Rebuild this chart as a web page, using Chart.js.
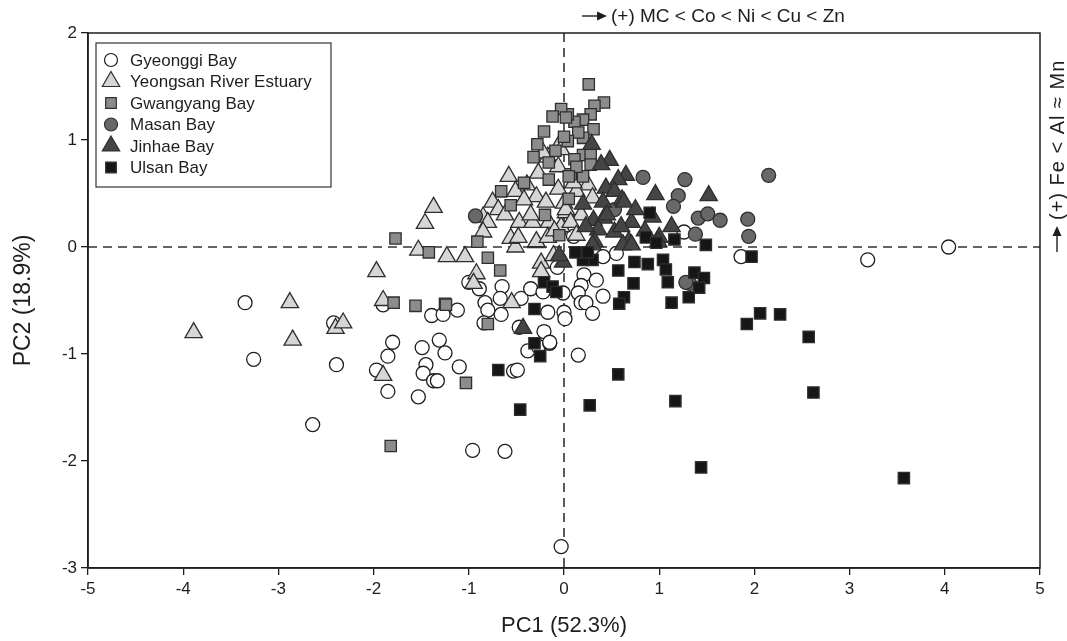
<!DOCTYPE html>
<html>
<head>
<meta charset="utf-8">
<script src="https://cdn.jsdelivr.net/npm/chart.js@4.4.0/dist/chart.umd.min.js"></script>
<style>
  html, body { margin: 0; padding: 0; background: #fff; }
  #wrap { width: 1067px; height: 641px; }
</style>
</head>
<body>
<div id="wrap"><canvas id="myChart" width="1067" height="641"></canvas></div>
<script>
// PCA scores, [PC1, PC2]
const gyeonggi = [[-3.35,-0.52],[-3.26,-1.05],[-2.64,-1.66],[-2.42,-0.71],[-2.39,-1.10],[-1.90,-0.54],[-1.80,-0.89],[-1.85,-1.02],[-1.97,-1.15],[-1.85,-1.35],[-1.53,-1.40],[-1.49,-0.94],[-1.31,-0.87],[-1.25,-0.99],[-1.45,-1.10],[-1.48,-1.18],[-1.37,-1.25],[-1.33,-1.25],[-1.39,-0.64],[-1.27,-0.63],[-1.12,-0.59],[-1.10,-1.12],[-0.96,-1.90],[-0.62,-1.91],[-0.53,-1.16],[-0.49,-1.15],[-0.38,-0.97],[-0.27,-0.93],[-0.15,-0.90],[0.15,-1.01],[-0.03,-2.80],[-0.89,-0.39],[-0.65,-0.37],[-0.67,-0.48],[-0.83,-0.52],[-0.80,-0.59],[-0.66,-0.63],[-0.84,-0.71],[-0.45,-0.48],[-0.35,-0.39],[-0.22,-0.42],[-0.17,-0.61],[-0.07,-0.19],[-0.01,-0.43],[0.00,-0.61],[0.01,-0.67],[-0.47,-0.75],[-0.21,-0.79],[-0.15,-0.89],[0.55,-0.06],[0.41,-0.09],[0.21,-0.26],[0.34,-0.31],[0.18,-0.36],[0.15,-0.43],[0.18,-0.52],[0.23,-0.52],[0.41,-0.46],[0.30,-0.62],[1.26,0.14],[1.86,-0.09],[3.19,-0.12],[4.04,0.00],[-1.00,-0.33],[-0.05,0.15],[0.10,0.10]];
const yeongsan = [[-3.89,-0.80],[-2.88,-0.52],[-2.85,-0.87],[-2.40,-0.76],[-2.32,-0.71],[-1.97,-0.23],[-1.90,-0.50],[-1.90,-1.20],[-1.37,0.37],[-1.46,0.22],[-1.53,-0.03],[-1.23,-0.09],[-1.04,-0.09],[-0.92,-0.25],[-0.95,-0.34],[-0.55,-0.52],[-0.24,-0.15],[-0.24,-0.23],[-0.11,-0.08],[-0.51,0.00],[-0.29,0.04],[-0.58,0.66],[-0.39,0.58],[-0.51,0.52],[-0.75,0.42],[-0.69,0.35],[-0.85,0.28],[-0.80,0.23],[-0.85,0.14],[-0.27,0.69],[-0.29,0.47],[-0.19,0.42],[-0.06,0.54],[-0.17,0.84],[-0.06,0.75],[-0.22,0.88],[-0.06,0.94],[-0.47,0.23],[-0.33,0.23],[-0.16,0.23],[-0.03,0.19],[-0.56,0.08],[-0.48,0.09],[-0.29,0.05],[-0.17,0.09],[-0.42,0.44],[0.00,0.41],[0.02,0.32],[0.25,0.58],[0.13,0.52],[0.30,0.46],[0.02,0.35],[0.18,0.30],[0.07,0.23],[0.13,0.11],[-0.03,0.91],[-0.62,0.30],[-0.35,0.30],[-0.10,0.15],[0.10,0.60]];
const gwangyang = [[0.26,1.52],[0.42,1.35],[0.32,1.32],[0.28,1.24],[0.20,1.19],[0.11,1.17],[0.04,1.24],[0.31,1.10],[0.20,1.02],[0.15,1.07],[0.04,0.99],[0.20,0.86],[0.28,0.86],[0.28,0.77],[0.11,0.82],[0.07,0.68],[0.20,0.66],[0.13,0.75],[-0.03,1.29],[-0.12,1.22],[0.02,1.21],[-0.21,1.08],[-0.28,0.96],[0.00,1.03],[-0.32,0.84],[-0.16,0.79],[0.05,0.66],[-0.16,0.63],[-0.66,0.52],[-0.56,0.39],[-0.91,0.05],[-1.42,-0.05],[-0.80,-0.10],[-0.42,0.60],[-0.05,0.11],[-1.77,0.08],[-1.79,-0.52],[-1.56,-0.55],[-1.25,-0.53],[-1.82,-1.86],[-0.67,-0.22],[-1.24,-0.54],[-0.80,-0.72],[-1.03,-1.27],[-0.09,0.90],[-0.20,0.30],[0.05,0.45]];
const masan = [[0.83,0.65],[1.27,0.63],[1.20,0.48],[1.15,0.38],[1.41,0.27],[1.51,0.31],[1.64,0.25],[1.93,0.26],[1.94,0.10],[1.38,0.12],[0.53,0.35],[2.15,0.67],[-0.93,0.29],[1.32,-0.34],[1.28,-0.33]];
const jinhae = [[0.48,0.81],[0.39,0.77],[0.29,0.96],[0.65,0.67],[0.57,0.63],[0.44,0.55],[0.53,0.52],[0.61,0.44],[0.41,0.42],[0.63,0.42],[0.96,0.49],[1.52,0.48],[0.71,0.23],[0.93,0.28],[0.31,0.25],[0.42,0.27],[0.36,0.16],[0.53,0.14],[0.60,0.19],[1.13,0.19],[1.00,0.09],[0.32,0.05],[0.68,0.05],[0.23,0.19],[0.30,0.02],[0.62,0.02],[0.71,0.02],[0.99,0.05],[-0.01,-0.14],[-0.05,-0.08],[-0.43,-0.76],[0.45,0.30],[0.20,0.40],[0.75,0.35],[0.85,0.15]];
const ulsan = [[0.21,-0.06],[0.30,-0.12],[0.20,-0.12],[0.57,-0.22],[0.73,-0.34],[0.88,-0.16],[0.74,-0.14],[1.04,-0.12],[1.07,-0.21],[1.09,-0.33],[0.63,-0.47],[0.58,-0.53],[1.13,-0.52],[1.37,-0.24],[1.47,-0.29],[1.42,-0.38],[1.31,-0.47],[1.97,-0.09],[1.92,-0.72],[2.06,-0.62],[2.27,-0.63],[2.57,-0.84],[2.62,-1.36],[1.17,-1.44],[1.44,-2.06],[3.57,-2.16],[0.57,-1.19],[0.27,-1.48],[-0.46,-1.52],[-0.69,-1.15],[-0.31,-0.90],[-0.25,-1.02],[-0.21,-0.33],[-0.12,-0.37],[-0.08,-0.42],[-0.31,-0.58],[0.90,0.32],[0.86,0.09],[1.16,0.07],[1.49,0.02],[0.25,-0.05],[0.97,0.04],[0.12,-0.05]];

const siteNames = ['Gyeonggi Bay', 'Yeongsan River Estuary', 'Gwangyang Bay', 'Masan Bay', 'Jinhae Bay', 'Ulsan Bay'];
const xTitle = 'PC1 (52.3%)';
const yTitle = 'PC2 (18.9%)';
const topNote = '(+) MC < Co < Ni < Cu < Zn';
const rightNote = '(+) Fe < Al \u2248 Mn';

const seriesData = [gyeonggi, yeongsan, gwangyang, masan, jinhae, ulsan];
const fills = ['#ffffff', '#d6d6d6', '#8c8c8c', '#686868', '#454545', '#161616'];
const shapes = ['circle', 'triangle', 'rect', 'circle', 'triangle', 'rect'];
const sizes = [7, 10, 8, 7, 10, 8];

const FONT = '"Liberation Sans", Arial, sans-serif';
const INK = '#1e1e1e';

const datasets = seriesData.map((pts, i) => ({
    label: siteNames[i],
    data: pts.map(p => ({ x: p[0], y: p[1] })),
    pointStyle: shapes[i],
    pointRadius: sizes[i],
    pointHoverRadius: sizes[i],
    backgroundColor: fills[i],
    borderColor: i === 0 ? '#1e1e1e' : '#2e2e2e',
    borderWidth: 1.3,
    order: 6 - i
}));

const extras = {
    id: 'extras',
    beforeDatasetsDraw(chart) {
        const ctx = chart.ctx;
        const xs = chart.scales.x, ys = chart.scales.y;
        const a = chart.chartArea;
        ctx.save();
        ctx.strokeStyle = '#333';
        ctx.lineWidth = 1.6;
        ctx.setLineDash([9, 6]);
        const x0 = xs.getPixelForValue(0);
        const y0 = ys.getPixelForValue(0);
        ctx.beginPath();
        ctx.moveTo(x0, a.top); ctx.lineTo(x0, a.bottom);
        ctx.moveTo(a.left, y0); ctx.lineTo(a.right, y0);
        ctx.stroke();
        ctx.restore();
    },
    afterDraw(chart) {
        const ctx = chart.ctx;
        const a = chart.chartArea;
        ctx.save();
        // frame
        ctx.strokeStyle = INK;
        ctx.lineWidth = 1.5;
        ctx.strokeRect(a.left, a.top, a.right - a.left, a.bottom - a.top);

        // legend box
        const lx = 96, ly = 43, lw = 235, lh = 144;
        ctx.fillStyle = '#fff';
        ctx.fillRect(lx, ly, lw, lh);
        ctx.lineWidth = 1.2;
        ctx.strokeStyle = '#333';
        ctx.strokeRect(lx, ly, lw, lh);
        ctx.font = '17px ' + FONT;
        ctx.textBaseline = 'middle';
        siteNames.forEach((name, i) => {
            const cy = ly + 17 + i * 21.5;
            ctx.fillStyle = fills[i];
            ctx.strokeStyle = i === 0 ? '#1e1e1e' : '#2e2e2e';
            Chart.helpers.drawPoint(ctx, {
                pointStyle: shapes[i],
                radius: shapes[i] === 'circle' ? 6.5 : shapes[i] === 'rect' ? 7.5 : 10,
                borderWidth: 1.3,
                rotation: 0
            }, lx + 15, cy);
            ctx.fillStyle = INK;
            ctx.fillText(name, lx + 34, cy + 1);
        });

        // top arrow note
        const ay = 16;
        ctx.strokeStyle = INK;
        ctx.fillStyle = INK;
        ctx.lineWidth = 1.4;
        ctx.beginPath();
        ctx.moveTo(582, ay); ctx.lineTo(600, ay);
        ctx.stroke();
        ctx.beginPath();
        ctx.moveTo(607, ay); ctx.lineTo(597, ay - 4.5); ctx.lineTo(597, ay + 4.5);
        ctx.closePath(); ctx.fill();
        ctx.font = '19px ' + FONT;
        ctx.textAlign = 'left';
        ctx.fillText(topNote, 611, ay + 1);

        // right arrow note (rotated)
        const rx = 1057;
        ctx.beginPath();
        ctx.moveTo(rx, 252); ctx.lineTo(rx, 234);
        ctx.stroke();
        ctx.beginPath();
        ctx.moveTo(rx, 226); ctx.lineTo(rx - 4.5, 236); ctx.lineTo(rx + 4.5, 236);
        ctx.closePath(); ctx.fill();
        ctx.translate(rx, 220);
        ctx.rotate(-Math.PI / 2);
        ctx.font = '20px ' + FONT;
        ctx.letterSpacing = '1px';
        ctx.fillText(rightNote, 0, 1);
        ctx.restore();
    }
};

const ctx = document.getElementById('myChart').getContext('2d');
new Chart(ctx, {
    type: 'scatter',
    data: { datasets: datasets },
    plugins: [extras],
    options: {
        responsive: false,
        animation: false,
        layout: { padding: { left: 10, top: 33, right: 27, bottom: 0 } },
        plugins: {
            legend: { display: false },
            tooltip: { enabled: false }
        },
        scales: {
            x: {
                type: 'linear',
                min: -5,
                max: 5,
                afterFit: s => { s.height = 73; },
                ticks: { stepSize: 1, color: INK, font: { family: FONT, size: 17 }, padding: 4 },
                grid: { drawOnChartArea: false, drawTicks: true, tickLength: 7, color: INK, lineWidth: 1.3 },
                border: { display: true, color: INK, width: 1.5 },
                title: { display: true, text: xTitle, color: INK, font: { family: FONT, size: 22 }, padding: { top: 0, bottom: 2 } }
            },
            y: {
                type: 'linear',
                min: -3,
                max: 2,
                afterFit: s => { s.width = 78; },
                ticks: { stepSize: 1, color: INK, font: { family: FONT, size: 17 }, padding: 4 },
                grid: { drawOnChartArea: false, drawTicks: true, tickLength: 7, color: INK, lineWidth: 1.3 },
                border: { display: true, color: INK, width: 1.5 },
                title: { display: true, text: yTitle, color: INK, font: { family: FONT, size: 23 }, padding: { top: 0, bottom: 0 } }
            }
        }
    }
});
</script>
</body>
</html>
